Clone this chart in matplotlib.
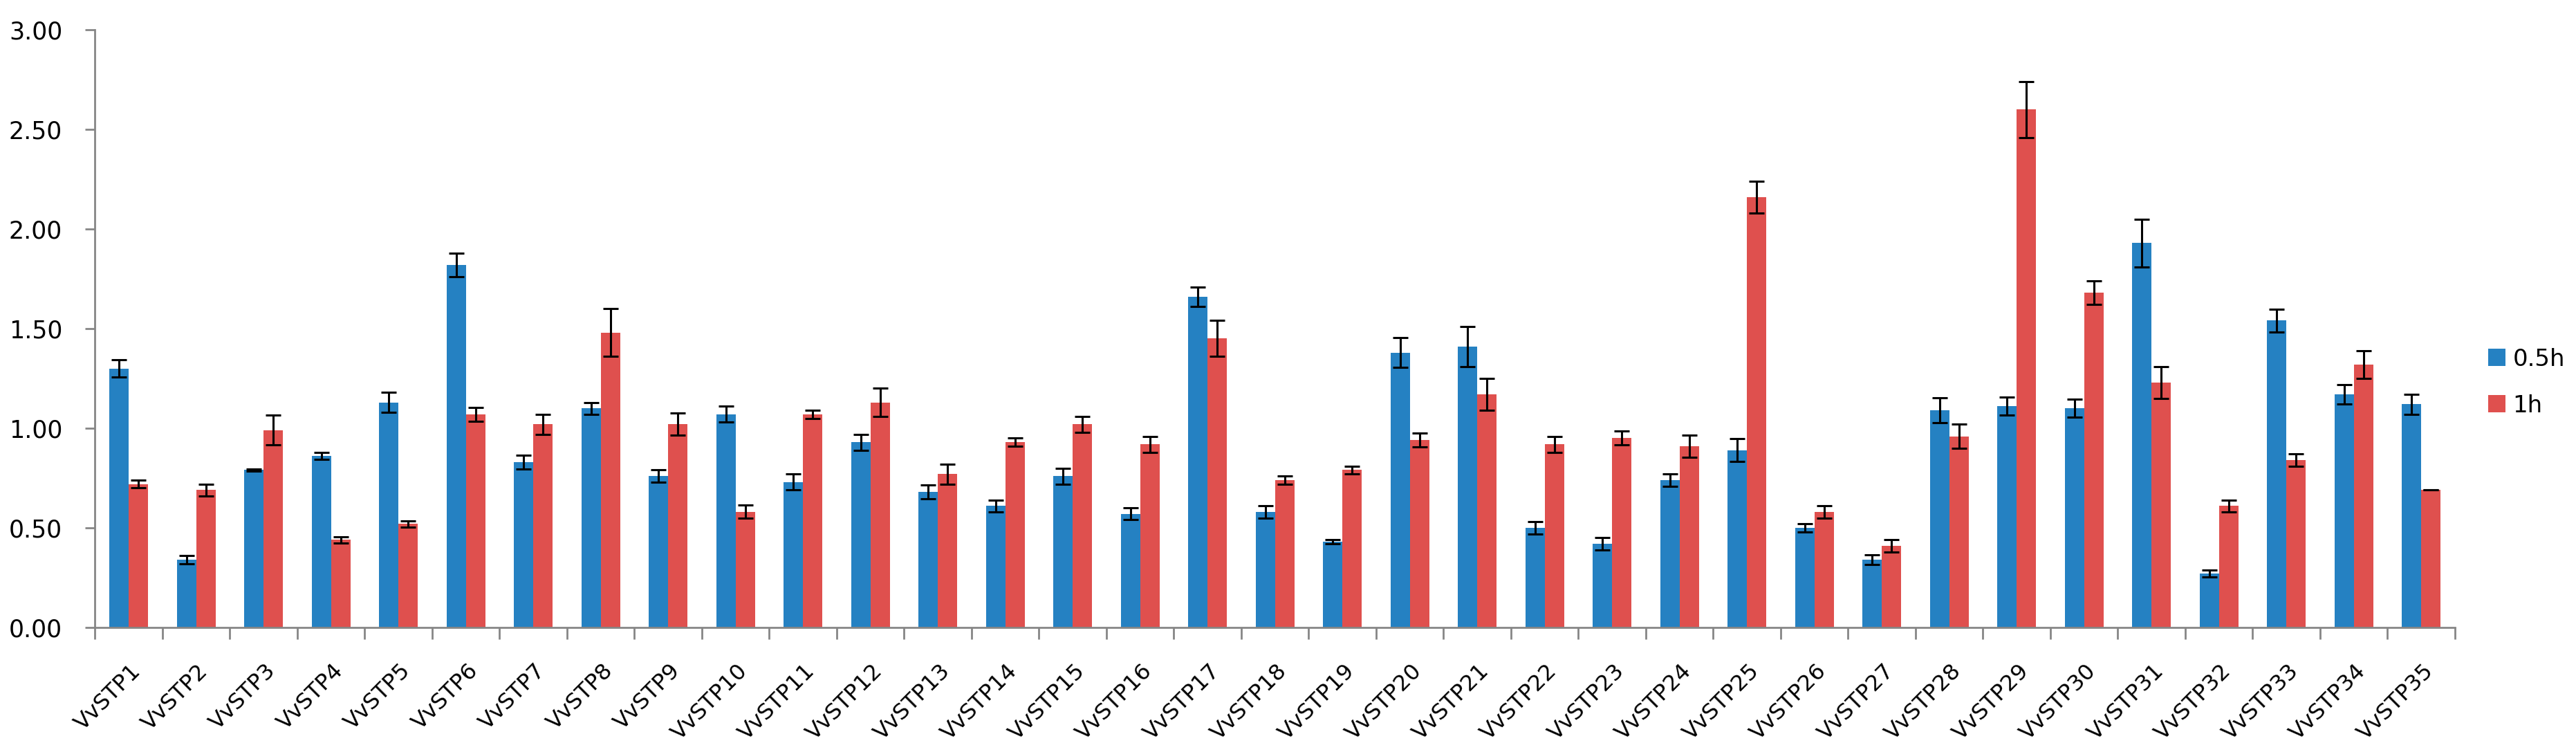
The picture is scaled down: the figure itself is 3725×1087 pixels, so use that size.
import numpy as np
import matplotlib
matplotlib.use("Agg")
import matplotlib.pyplot as plt

# 数据
genes = ["VvSTP%d" % i for i in range(1, 36)]
val_05h = [1.30, 0.34, 0.79, 0.86, 1.13, 1.82, 0.83, 1.10, 0.76, 1.07,
           0.73, 0.93, 0.68, 0.61, 0.76, 0.57, 1.66, 0.58, 0.43, 1.38,
           1.41, 0.50, 0.42, 0.74, 0.89, 0.50, 0.34, 1.09, 1.11, 1.10,
           1.93, 0.27, 1.54, 1.17, 1.12]
err_05h = [0.043, 0.02, 0.005, 0.017, 0.05, 0.058, 0.035, 0.03, 0.03, 0.04,
           0.04, 0.04, 0.035, 0.03, 0.04, 0.03, 0.05, 0.03, 0.01, 0.075,
           0.10, 0.03, 0.03, 0.03, 0.057, 0.02, 0.023, 0.062, 0.045, 0.046,
           0.12, 0.018, 0.058, 0.05, 0.05]
val_1h = [0.72, 0.69, 0.99, 0.44, 0.52, 1.07, 1.02, 1.48, 1.02, 0.58,
          1.07, 1.13, 0.77, 0.93, 1.02, 0.92, 1.45, 0.74, 0.79, 0.94,
          1.17, 0.92, 0.95, 0.91, 2.16, 0.58, 0.41, 0.96, 2.60, 1.68,
          1.23, 0.61, 0.84, 1.32, 0.69]
err_1h = [0.02, 0.03, 0.075, 0.015, 0.015, 0.035, 0.05, 0.12, 0.055, 0.033,
          0.02, 0.07, 0.05, 0.02, 0.04, 0.04, 0.09, 0.02, 0.02, 0.035,
          0.08, 0.04, 0.035, 0.057, 0.08, 0.03, 0.03, 0.062, 0.14, 0.06,
          0.08, 0.03, 0.03, 0.07, 0.0]
y_ticks = [0.0, 0.5, 1.0, 1.5, 2.0, 2.5, 3.0]

blue = "#2581C2"
red = "#DF504E"
grey = "#868686"

fig = plt.figure(figsize=(37.25, 10.87), dpi=100)
ax = fig.add_axes([0.0369, 0.1656, 0.9161, 0.7948])

x = np.arange(len(genes))
w = 1 / 3.5
ekw = dict(ecolor="black", elinewidth=2.2, capsize=8, capthick=2.2, zorder=3)
ax.bar(x - w / 2, val_05h, w, yerr=err_05h, color=blue, label="0.5h", error_kw=ekw, zorder=2)
ax.bar(x + w / 2, val_1h, w, yerr=err_1h, color=red, label="1h", error_kw=ekw, zorder=2)

ax.set_xlim(-0.5, len(genes) - 0.5)
ax.set_ylim(0, 3)
ax.set_yticks(y_ticks)
ax.set_yticklabels(["%.2f" % v for v in y_ticks], fontsize=25)

# 类别分隔刻度 + 标签
ax.set_xticks(np.arange(len(genes) + 1) - 0.5)
ax.set_xticklabels([])
ax.set_xticks(x + 0.13, minor=True)
ax.set_xticklabels(genes, minor=True, fontsize=23)
ax.tick_params(axis="x", which="minor", length=0, pad=42)
for lbl in ax.get_xticklabels(minor=True):
    lbl.set_rotation(45)
    lbl.set_ha("right")
    lbl.set_va("center")
    lbl.set_rotation_mode("anchor")

ax.tick_params(axis="x", which="major", length=12, width=2, color=grey)
ax.tick_params(axis="y", length=10, width=2, color=grey, pad=24)

for s in ["top", "right"]:
    ax.spines[s].set_visible(False)
for s in ["left", "bottom"]:
    ax.spines[s].set_color(grey)
    ax.spines[s].set_linewidth(2)

ax.legend(loc="center left", bbox_to_anchor=(0.9659, 0.4917), bbox_transform=fig.transFigure,
          frameon=False, fontsize=24.5, handlelength=0.74, handleheight=0.74,
          handletextpad=0.3, labelspacing=1.0, borderpad=0, borderaxespad=0)

fig.savefig("out.png", dpi=100)
